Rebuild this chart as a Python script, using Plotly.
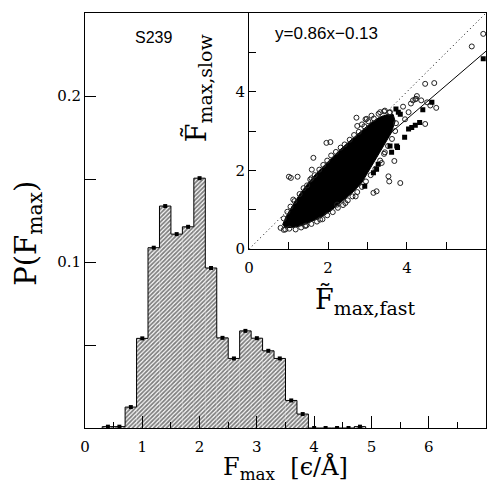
import plotly.graph_objects as go

# ---------------- data ----------------
bin_centers = [0.4, 0.6, 0.8, 1.0, 1.2, 1.4, 1.6, 1.8, 2.0, 2.2, 2.4, 2.6, 2.8,
               3.0, 3.2, 3.4, 3.6, 3.8, 4.0, 4.2, 4.4, 4.6, 4.8]
bin_heights = [0.0008, 0.0008, 0.0126, 0.054, 0.1086, 0.1337, 0.1168, 0.1212,
               0.1505, 0.0964, 0.0543, 0.0419, 0.0585, 0.0541, 0.0465, 0.0419,
               0.0166, 0.0084, 0.0, 0.0, 0.0, 0.0, 0.0008]
bin_width = 0.2

# dense core of the scatter cloud (outline of the solid black region)
cloud_x = [0.85, 0.95, 1.10, 1.30, 1.50, 1.70, 1.90, 2.10, 2.30, 2.50, 2.70, 2.90,
           3.10, 3.30, 3.50, 3.65, 3.70, 3.60, 3.45, 3.30, 3.15, 3.00, 2.85, 2.60,
           2.35, 2.10, 1.85, 1.60, 1.35, 1.10, 0.90]
cloud_y = [0.62, 0.85, 1.10, 1.42, 1.68, 1.92, 2.12, 2.33, 2.52, 2.70, 2.88, 3.06,
           3.22, 3.35, 3.42, 3.42, 3.25, 2.95, 2.70, 2.45, 2.20, 1.95, 1.68, 1.42,
           1.20, 1.00, 0.82, 0.70, 0.60, 0.55, 0.55]

# open circles (edge of the cloud and outliers)
circ_x = [0.88, 0.97, 1.05, 1.15, 1.28, 1.38, 1.47, 1.58, 1.66, 1.78, 1.88, 1.98,
          2.08, 2.20, 2.32, 2.42, 2.55, 2.66, 2.78, 2.92, 3.02, 3.16, 3.28, 3.42,
          3.55,
          0.92, 1.02, 1.18, 1.32, 1.45, 1.58, 1.72, 1.86, 1.98, 2.12, 2.25, 2.38,
          2.50, 2.62, 2.74, 2.86, 2.96, 3.08, 3.20, 3.32, 3.42, 3.52, 3.62, 3.70,
          3.72,
          1.01, 1.06, 1.23, 1.63, 2.06, 0.80, 0.88, 1.42, 1.80, 2.23, 2.44, 2.70,
          2.95, 2.86, 2.74, 1.59, 1.55, 1.12, 5.93, 5.64, 4.46, 4.69, 4.15, 4.23,
          4.36, 4.51, 4.59, 4.74, 4.46, 3.68, 3.44, 2.98, 3.10, 3.32, 3.44, 3.57,
          4.04, 4.21, 4.25, 3.83, 3.53, 3.55, 3.36, 3.23, 3.15, 1.96, 2.72, 3.90,
          4.10, 3.95]
circ_y = [0.78, 0.95, 1.08, 1.22, 1.40, 1.55, 1.62, 1.80, 1.88, 2.02, 2.14, 2.25,
          2.38, 2.47, 2.58, 2.66, 2.78, 2.90, 2.98, 3.12, 3.25, 3.32, 3.44, 3.50,
          3.47,
          0.50, 0.52, 0.50, 0.55, 0.60, 0.64, 0.70, 0.76, 0.86, 0.94, 1.05, 1.12,
          1.24, 1.34, 1.45, 1.58, 1.72, 1.88, 2.04, 2.25, 2.42, 2.62, 2.80, 3.00,
          3.20,
          1.84, 1.81, 1.84, 2.32, 2.72, 0.54, 0.49, 0.59, 0.75, 1.13, 1.17, 1.34,
          3.30, 3.17, 3.13, 2.02, 1.77, 1.26, 5.47, 5.15, 4.20, 4.22, 3.78, 3.82,
          3.78, 3.73, 3.65, 3.59, 3.18, 2.24, 2.46, 3.31, 3.39, 3.48, 3.52, 3.48,
          3.48, 3.81, 3.89, 1.68, 1.85, 1.72, 2.19, 1.47, 1.43, 2.70, 3.34, 3.62,
          3.70, 3.30]

# filled squares
sq_x = [5.93, 4.63, 4.40, 4.32, 4.21, 4.12, 4.04, 3.94, 3.76, 3.72, 3.78, 3.61,
        3.27, 3.23, 3.15, 2.93, 3.57, 3.74, 3.83]
sq_y = [4.84, 3.73, 3.54, 3.22, 3.15, 3.09, 3.05, 2.84, 2.58, 3.56, 3.48, 2.46,
        2.16, 2.03, 1.94, 1.60, 2.62, 2.62, 3.43]

fit_slope = 0.86
fit_intercept = -0.13
fit_x = [1.5, 6.0]
diag_x = [0.0, 6.0]

main_xticks = [0, 1, 2, 3, 4, 5, 6, 7]
main_xminor = [0.5, 1.5, 2.5, 3.5, 4.5, 5.5, 6.5]
main_yticks = [0.05, 0.1, 0.15, 0.2]
main_ylabels = ["", "0.1", "", "0.2"]
inset_ticks = [0, 1, 2, 3, 4, 5]
inset_labels = ["0", "", "2", "", "4", ""]

# ---------------- figure ----------------
SERIF = "DejaVu Serif"
SANS = "Liberation Sans"

fig = go.Figure()

fig.add_trace(go.Bar(
    x=bin_centers, y=bin_heights, width=bin_width,
    marker=dict(color="white", line=dict(width=0),
                pattern=dict(shape="/", fgcolor="black", bgcolor="white",
                             size=3, solidity=0.6)),
    xaxis="x", yaxis="y", showlegend=False))

# step outline built from the bins
lefts = [c - bin_width / 2 for c in bin_centers]
step_x = [lefts[0]] + lefts + [bin_centers[-1] + bin_width / 2] * 2
step_y = [0] + bin_heights + [bin_heights[-1], 0]
fig.add_trace(go.Scatter(
    x=step_x, y=step_y, mode="lines", line=dict(color="black", width=1, shape="hv"),
    xaxis="x", yaxis="y", showlegend=False, hoverinfo="skip"))

fig.add_trace(go.Scatter(
    x=bin_centers, y=bin_heights, mode="markers",
    marker=dict(symbol="square", size=4, color="black"),
    xaxis="x", yaxis="y", showlegend=False))

# inset
fig.add_trace(go.Scatter(
    x=diag_x, y=diag_x, mode="lines",
    line=dict(color="black", width=1, dash="1px,3px"),
    xaxis="x2", yaxis="y2", showlegend=False))
fig.add_trace(go.Scatter(
    x=cloud_x, y=cloud_y, mode="lines", fill="toself", fillcolor="black",
    line=dict(color="black", width=1),
    xaxis="x2", yaxis="y2", showlegend=False))
fig.add_trace(go.Scatter(
    x=circ_x, y=circ_y, mode="markers",
    marker=dict(symbol="circle-open", size=5, color="#222",
                line=dict(width=1, color="#222")),
    xaxis="x2", yaxis="y2", showlegend=False))
fig.add_trace(go.Scatter(
    x=sq_x, y=sq_y, mode="markers",
    marker=dict(symbol="square", size=5, color="black"),
    xaxis="x2", yaxis="y2", showlegend=False))
fig.add_trace(go.Scatter(
    x=fit_x, y=[fit_slope * v + fit_intercept for v in fit_x], mode="lines",
    line=dict(color="black", width=1),
    xaxis="x2", yaxis="y2", showlegend=False))

axis_common = dict(showline=True, linecolor="black", linewidth=1, mirror=True,
                   showgrid=False, zeroline=False, ticks="inside",
                   tickcolor="black", tickwidth=1)

fig.update_layout(
    width=488, height=484,
    margin=dict(l=85, r=2, t=13, b=56),
    paper_bgcolor="white", plot_bgcolor="white",
    font=dict(family=SERIF, size=15, color="black"),
    xaxis=dict(range=[0, 7], tickvals=main_xticks, ticklen=12,
               ticklabelstandoff=5,
               minor=dict(tickvals=main_xminor, ticklen=6, ticks="inside",
                          tickcolor="black"),
               tickfont=dict(family=SERIF, size=15), **axis_common),
    yaxis=dict(range=[0, 0.25], tickvals=main_yticks, ticktext=main_ylabels,
               ticklen=11, tickfont=dict(family=SERIF, size=15), **axis_common),
    xaxis2=dict(domain=[0.409, 1.0], anchor="y2", range=[0, 6],
                tickvals=inset_ticks, ticktext=inset_labels, ticklen=7,
                ticklabelstandoff=5,
                tickfont=dict(family=SERIF, size=15), **axis_common),
    yaxis2=dict(domain=[0.431, 1.0], anchor="x2", range=[0, 6],
                tickvals=inset_ticks, ticktext=inset_labels, ticklen=7,
                tickfont=dict(family=SERIF, size=15), **axis_common),
)

fig.add_annotation(x=1.19, y=0.2355, xref="x", yref="y", text="S239",
                   showarrow=False, xanchor="center", yanchor="middle",
                   font=dict(family=SANS, size=16))
fig.add_annotation(x=1.96, y=5.49, xref="x2", yref="y2", text="y=0.86x\u22120.13",
                   showarrow=False, xanchor="center", yanchor="middle",
                   font=dict(family=SANS, size=17))
fig.add_annotation(x=0.5, y=-0.14, xref="paper", yref="paper",
                   text="F<sub>max</sub>  [\u03f5/\u00c5]", showarrow=False,
                   xanchor="center", yanchor="bottom",
                   font=dict(family=SERIF, size=24))
fig.add_annotation(x=-0.195, y=0.47, xref="paper", yref="paper",
                   text="P(F<sub>max</sub>)", textangle=-90, showarrow=False,
                   xanchor="left", yanchor="middle",
                   font=dict(family=SERIF, size=29))
fig.add_annotation(x=2.96, y=0.306, xref="x2", yref="paper",
                   text="F\u0303<sub>max,fast</sub>", showarrow=False,
                   xanchor="center", yanchor="middle",
                   font=dict(family=SERIF, size=27))
fig.add_annotation(x=0.281, y=0.818, xref="paper", yref="paper",
                   text="F\u0303<sub>max,slow</sub>", textangle=-90, showarrow=False,
                   xanchor="center", yanchor="middle",
                   font=dict(family=SERIF, size=27))

fig.write_html("out.html")
